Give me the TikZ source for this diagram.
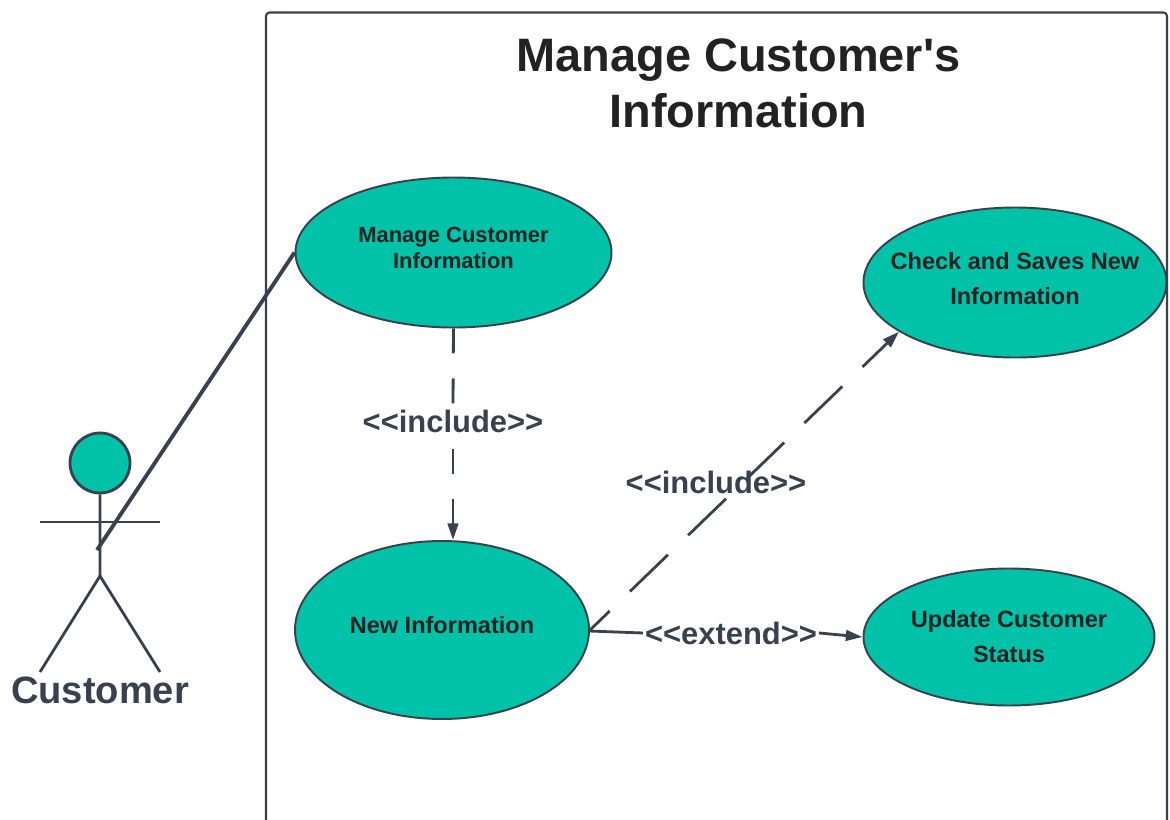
\documentclass[tikz,border=0pt]{standalone}
\usepackage{fontspec}
\newfontfamily\plainsans{Liberation Sans}
\usetikzlibrary{shapes.geometric,arrows.meta}
\definecolor{linegray}{RGB}{58,65,78}
\definecolor{tealfill}{RGB}{0,194,168}
\definecolor{titleblack}{RGB}{34,34,34}
\tikzset{
  usecase/.style={ellipse,draw=linegray,line width=1.1pt,fill=tealfill,inner sep=0pt,align=center,text=titleblack,font=\plainsans\fontsize{13.4}{20}\selectfont\bfseries},
  stereo/.style={inner sep=1pt,text=linegray,font=\plainsans\fontsize{17.6}{20}\selectfont\bfseries},
  wire/.style={draw=linegray,line width=1.6pt},
  tip/.style={-{Triangle[length=9.5pt,width=6pt]}},
  dashwire/.style={wire,dash pattern=on 14.2pt off 14.2pt},
  longdash/.style={wire,tip,dash pattern=on 30pt off 16pt,dash phase=13.6pt}
}
\begin{document}
\begin{tikzpicture}[scale=0.2]
\useasboundingbox (0,0) rectangle (117,-81.9);
% system box runs off the bottom
\draw [linegray,line width=1.2pt,rounded corners=2pt] (26.6,-83) -- (26.6,-1.25) -- (116.7,-1.25) -- (116.7,-83);
\node (title) [align=center,text=titleblack,font=\plainsans\fontsize{26.7}{32}\selectfont\bfseries] at (73.85,-8.3) {Manage Customer's\\Information};
% use cases
\node (manage) [usecase,minimum width=6.32cm,minimum height=3cm,text depth=5.1pt,font=\plainsans\fontsize{12.5}{14.6}\selectfont\bfseries] at (45.35,-25.25) {Manage Customer\\Information};
\node (check) [usecase,minimum width=6.06cm,minimum height=3cm,inner xsep=-0.5cm,text depth=4.5pt] at (101.5,-28.25) {Check and Saves New\\Information};
\node (newinfo) [usecase,minimum width=5.88cm,minimum height=3.56cm,text depth=5.6pt] at (44.2,-63) {New Information};
\node (update) [usecase,minimum width=5.82cm,minimum height=2.74cm,text depth=1pt] at (100.9,-63.7) {Update Customer\\Status};
% actor
\node (head) [circle,draw=linegray,line width=1.6pt,fill=tealfill,inner sep=0pt,minimum size=1.2cm] at (10,-46.3) {};
\coordinate (hip) at (10,-57.6);
\coordinate (armL) at (4,-52.2);
\coordinate (armR) at (16,-52.2);
\coordinate (footL) at (4,-67.2);
\coordinate (footR) at (16,-67.2);
\coordinate (hand) at (9.7,-55);
\draw [wire] (head) -- (hip);
\draw [wire] (armL) -- (armR);
\draw [wire] (footL) -- (hip) -- (footR);
\node (customer) [text=linegray,inner sep=0pt,font=\plainsans\fontsize{21.7}{24}\selectfont\bfseries] at (10,-69) {Customer};
% connectors
\draw [wire,line width=2.2pt] (manage.west) -- (hand);
\node (inc1) [stereo] at (45.3,-42.1) {<<include>>};
\coordinate (gapA) at (45.3,-40.4);
\coordinate (gapB) at (45.3,-44.9);
\draw [dashwire] (manage.south) -- (gapA);
\draw [dashwire,tip] (gapB) -- (gapB |- newinfo.north);
\coordinate (from) at (58.9,-63.1);
\draw [longdash] (from) -- (check.203);
\node (inc2) [stereo] at (71.6,-48.2) {<<include>>};
\node (ext) [stereo] at (73.1,-63.3) {<<extend>>};
\draw [wire] (from) -- (ext.west);
\draw [wire,tip] (ext.east) -- (update.west);
\end{tikzpicture}
\end{document}
